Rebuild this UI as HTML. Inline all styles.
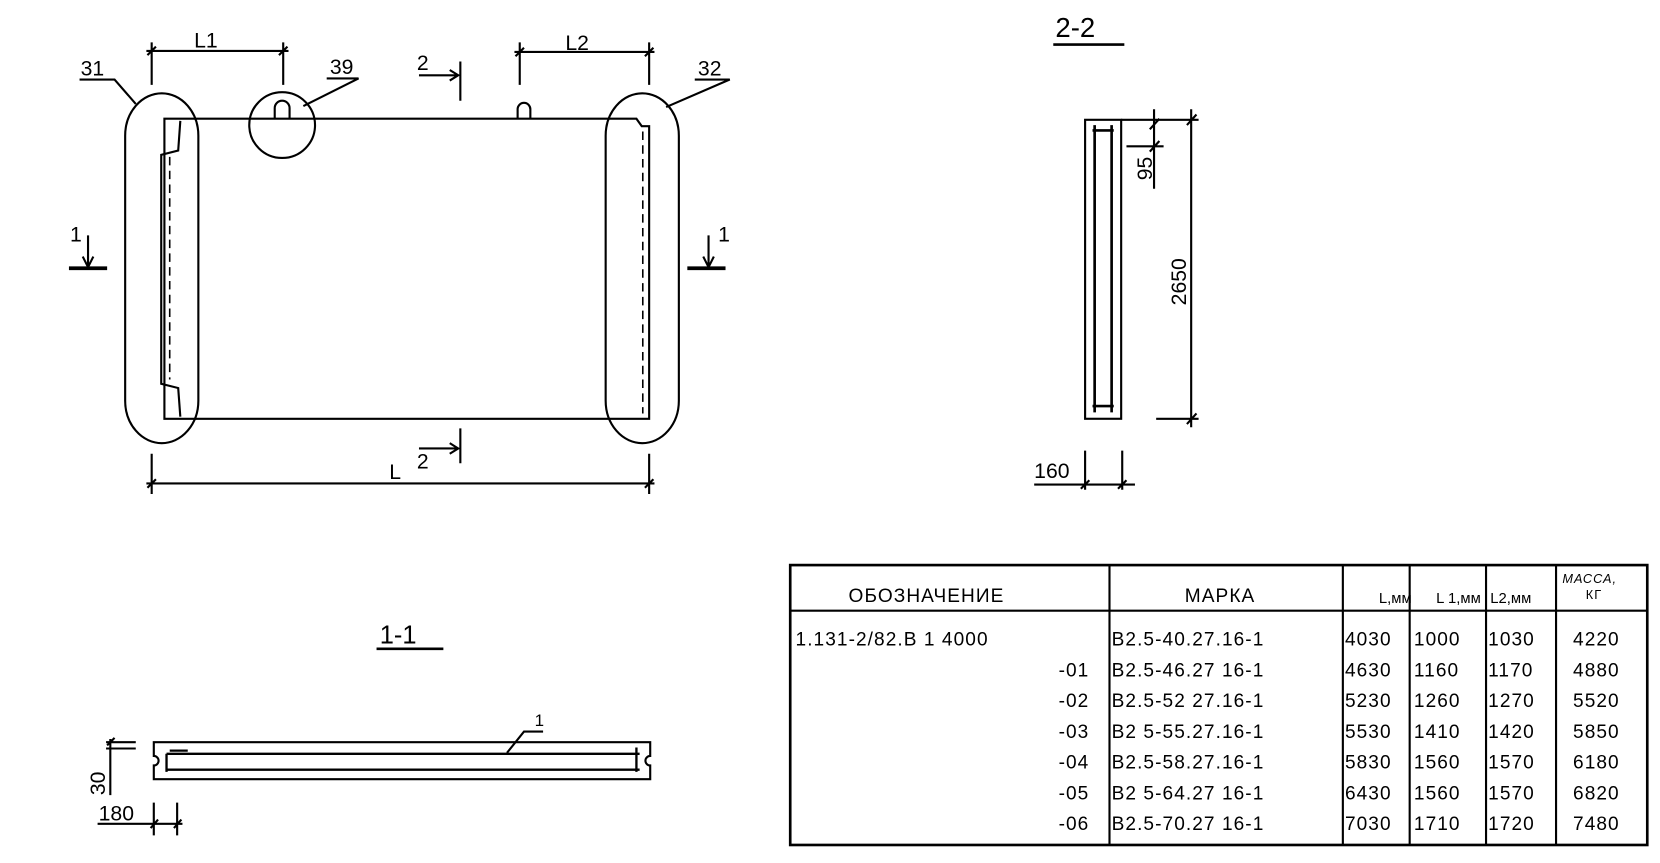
<!DOCTYPE html>
<html><head><meta charset="utf-8"><style>
html,body{margin:0;padding:0;background:#fff}
svg{display:block}
text{font-family:"Liberation Sans","DejaVu Sans",sans-serif;fill:#000}
</style></head><body>
<svg width="1660" height="863" viewBox="0 0 1565 814" preserveAspectRatio="none" xmlns="http://www.w3.org/2000/svg">
<g stroke="#000" fill="none" stroke-width="2">
<path d="M155 112 H600 L605 119 H612 V395 H155 Z"/>
<path d="M170 114 L168 142 L152 146 V362 L168 366 L170 393"/>
<path d="M160 148 V358" stroke-dasharray="8 5" stroke-width="1.5"/>
<path d="M606 124 V390" stroke-dasharray="8 5" stroke-width="1.5"/>
<rect x="118" y="88" width="69" height="330" rx="35" ry="40"/>
<rect x="571" y="88" width="69" height="330" rx="35" ry="40"/>
<ellipse cx="266" cy="118" rx="31" ry="31"/>
<path d="M259 112 V102 A7 7 0 0 1 273 102 V112"/>
<path d="M488 112 V103 A6 6 0 0 1 500 103 V112"/>
<path d="M138 48 H272 M143 40 V80 M267 40 V80 M139 52 L147 44 M263 52 L271 44"/>
<path d="M485 49 H617 M490 40 V80 M612 40 V80 M486 53 L494 45 M608 53 L616 45"/>
<path d="M138 456 H617 M143 428 V466 M612 428 V466 M139 460 L147 452 M608 460 L616 452"/>
<path d="M434 58 V95 M395 71 H432 M424 66 L432 71 L424 76"/>
<path d="M434 404 V437 M395 423 H432 M424 418 L432 423 L424 428"/>
<path d="M83 222 V252 M78 242 L83 252 L88 242"/>
<path d="M668 222 V252 M663 242 L668 252 L673 242"/>
<path d="M65 253 H101 M648 253 H684" stroke-width="3.5"/>
<path d="M75 75 H108 L128 98"/>
<path d="M308 74 H338 L286 100"/>
<path d="M655 75 H688 L628 101"/>
<path d="M993 42 H1060" stroke-width="2.5"/>
<rect x="1023" y="113" width="34" height="282"/>
<path d="M1032 118 V389 M1048 118 V389 M1030 123 H1050 M1030 383 H1050" stroke-width="2.5"/>
<path d="M1057 113 H1130 M1062 138 H1097 M1090 395 H1130 M1123 103 V403 M1088 103 V178 M1084 122 L1093 112 M1084 143 L1093 133 M1119 118 L1128 108 M1119 400 L1128 390"/>
<path d="M975 457 H1070 M1023 425 V462 M1058 425 V462 M1019 461 L1027 453 M1054 461 L1062 453"/>
<path d="M355 612 H418" stroke-width="2.5"/>
<path d="M145 700 H613 V713 A4 4 0 0 0 613 722 V735 H145 V722 A4 4 0 0 0 145 713 Z"/>
<path d="M157 711 H603 M157 726 H603 M157 711 V728 M160 708 H177 M600 705 V728" stroke-width="2.2"/>
<path d="M478 710 L494 690 H512"/>
<path d="M100 700 H128 M100 706 H128 M104 697 V750 M101 703 L108 696"/>
<path d="M92 777 H172 M145 757 V788 M167 757 V788 M142 781 L149 773 M164 781 L171 773"/>
<rect x="745" y="533" width="808" height="264" stroke-width="2.5"/>
<path d="M745 576 H1553 M1046 533 V797 M1266 533 V797 M1329 533 V797 M1401 533 V797 M1467 533 V797" stroke-width="2"/>
</g>
<g font-size="20">
<text x="183" y="45">L1</text>
<text x="533" y="47">L2</text>
<text x="367" y="452">L</text>
<text x="76" y="71">31</text>
<text x="311" y="70">39</text>
<text x="658" y="71">32</text>
<text x="393" y="66">2</text>
<text x="393" y="442">2</text>
<text x="66" y="228">1</text>
<text x="677" y="228">1</text>
<text x="995" y="35" font-size="26">2-2</text>
<text x="358" y="607" font-size="24">1-1</text>
<text x="504" y="685" font-size="16">1</text>
<text x="975" y="451">160</text>
<text x="93" y="774">180</text>
<text transform="translate(1118,288) rotate(-90)">2650</text>
<text transform="translate(1086,170) rotate(-90)">95</text>
<text transform="translate(99,750) rotate(-90)">30</text>
</g>
<g font-size="18" letter-spacing="1">
<text x="800" y="568">ОБОЗНАЧЕНИЕ</text>
<text x="1117" y="568">МАРКА</text>
<text x="1300" y="569" font-size="14" letter-spacing="0">L,мм</text>
<text x="1354" y="569" font-size="14" letter-spacing="0">L 1,мм</text>
<text x="1405" y="569" font-size="14" letter-spacing="0">L2,мм</text>
<text x="1473" y="550" font-size="12" font-style="italic">МАССА,</text>
<text x="1495" y="565" font-size="12">КГ</text>
<text x="750" y="609">1.131-2/82.В 1 4000</text>
<text x="1048" y="609">В2.5-40.27.16-1</text>
<text x="1268" y="609">4030</text><text x="1333" y="609">1000</text><text x="1403" y="609">1030</text><text x="1483" y="609">4220</text>
<text x="998" y="638">-01</text><text x="1048" y="638">В2.5-46.27 16-1</text>
<text x="1268" y="638">4630</text><text x="1333" y="638">1160</text><text x="1403" y="638">1170</text><text x="1483" y="638">4880</text>
<text x="998" y="667">-02</text><text x="1048" y="667">В2.5-52 27.16-1</text>
<text x="1268" y="667">5230</text><text x="1333" y="667">1260</text><text x="1403" y="667">1270</text><text x="1483" y="667">5520</text>
<text x="998" y="696">-03</text><text x="1048" y="696">В2 5-55.27.16-1</text>
<text x="1268" y="696">5530</text><text x="1333" y="696">1410</text><text x="1403" y="696">1420</text><text x="1483" y="696">5850</text>
<text x="998" y="725">-04</text><text x="1048" y="725">В2.5-58.27.16-1</text>
<text x="1268" y="725">5830</text><text x="1333" y="725">1560</text><text x="1403" y="725">1570</text><text x="1483" y="725">6180</text>
<text x="998" y="754">-05</text><text x="1048" y="754">В2 5-64.27 16-1</text>
<text x="1268" y="754">6430</text><text x="1333" y="754">1560</text><text x="1403" y="754">1570</text><text x="1483" y="754">6820</text>
<text x="998" y="783">-06</text><text x="1048" y="783">В2.5-70.27 16-1</text>
<text x="1268" y="783">7030</text><text x="1333" y="783">1710</text><text x="1403" y="783">1720</text><text x="1483" y="783">7480</text>
</g>
</svg>
</body></html>
